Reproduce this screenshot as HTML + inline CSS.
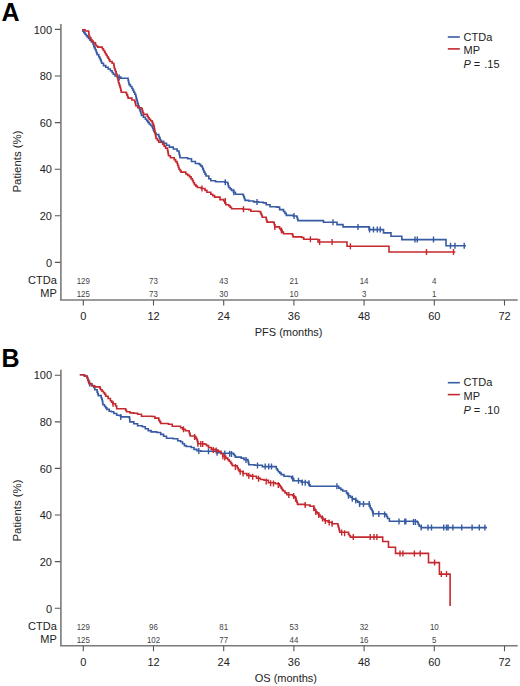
<!DOCTYPE html>
<html><head><meta charset="utf-8"><style>
html,body{margin:0;padding:0;background:#fff;}
body{width:520px;height:686px;overflow:hidden;}
svg{display:block;}
text{font-family:"Liberation Sans",sans-serif;}
.big{font-size:25px;font-weight:bold;fill:#000;}
.lab{font-size:11px;fill:#222;}
.num{font-size:8.8px;fill:#444;}
.ax{stroke:#7a7a7a;stroke-width:1.6;fill:none;}
.tk{stroke:#555;stroke-width:1.1;fill:none;}
.cv{fill:none;stroke-width:1.6;stroke-linejoin:miter;stroke-linecap:butt;}
.cs{fill:none;stroke-width:1.4;}
</style></head><body>
<svg width="520" height="686" viewBox="0 0 520 686">
<text x="1.5" y="20.9" class="big">A</text>
<path d="M60.9 24V300" class="ax"/>
<path d="M60.1 300H517.7" class="ax"/>
<text x="52" y="33.6" class="lab" text-anchor="end">100</text>
<text x="52" y="80.2" class="lab" text-anchor="end">80</text>
<text x="52" y="126.8" class="lab" text-anchor="end">60</text>
<text x="52" y="173.3" class="lab" text-anchor="end">40</text>
<text x="52" y="219.9" class="lab" text-anchor="end">20</text>
<text x="52" y="266.6" class="lab" text-anchor="end">0</text>
<text x="83.3" y="319.8" class="lab" text-anchor="middle">0</text>
<text x="153.5" y="319.8" class="lab" text-anchor="middle">12</text>
<text x="223.7" y="319.8" class="lab" text-anchor="middle">24</text>
<text x="293.9" y="319.8" class="lab" text-anchor="middle">36</text>
<text x="364.1" y="319.8" class="lab" text-anchor="middle">48</text>
<text x="434.3" y="319.8" class="lab" text-anchor="middle">60</text>
<text x="504.5" y="319.8" class="lab" text-anchor="middle">72</text>
<path d="M54.8 29.4H60.5M54.8 76H60.5M54.8 122.6H60.5M54.8 169.2H60.5M54.8 215.8H60.5M54.8 262.4H60.5M83.3 300V305.5M153.5 300V305.5M223.7 300V305.5M293.9 300V305.5M364.1 300V305.5M434.3 300V305.5M504.5 300V305.5" class="tk"/>
<text x="254.7" y="336.2" class="lab">PFS (months)</text>
<text transform="translate(21.2 161.5) rotate(-90)" class="lab" style="font-size:11.4px" text-anchor="middle">Patients (%)</text>
<text x="56.8" y="284.4" class="lab" text-anchor="end">CTDa</text>
<text x="56.8" y="296.9" class="lab" text-anchor="end">MP</text>
<text transform="translate(83.3 284.1) scale(0.9 1)" class="num" text-anchor="middle">129</text>
<text transform="translate(83.3 296.8) scale(0.9 1)" class="num" text-anchor="middle">125</text>
<text transform="translate(153.5 284.1) scale(0.9 1)" class="num" text-anchor="middle">73</text>
<text transform="translate(153.5 296.8) scale(0.9 1)" class="num" text-anchor="middle">73</text>
<text transform="translate(223.7 284.1) scale(0.9 1)" class="num" text-anchor="middle">43</text>
<text transform="translate(223.7 296.8) scale(0.9 1)" class="num" text-anchor="middle">30</text>
<text transform="translate(293.9 284.1) scale(0.9 1)" class="num" text-anchor="middle">21</text>
<text transform="translate(293.9 296.8) scale(0.9 1)" class="num" text-anchor="middle">10</text>
<text transform="translate(364.1 284.1) scale(0.9 1)" class="num" text-anchor="middle">14</text>
<text transform="translate(364.1 296.8) scale(0.9 1)" class="num" text-anchor="middle">3</text>
<text transform="translate(434.3 284.1) scale(0.9 1)" class="num" text-anchor="middle">4</text>
<text transform="translate(434.3 296.8) scale(0.9 1)" class="num" text-anchor="middle">1</text>
<path d="M447.8 37H459.8" stroke="#365ba2" stroke-width="1.6"/>
<path d="M447.8 48.9H459.8" stroke="#c5282e" stroke-width="1.6"/>
<text x="463.6" y="40.5" class="lab">CTDa</text>
<text x="463.6" y="54" class="lab">MP</text>
<text x="463.4" y="68.2" class="lab"><tspan font-style="italic">P</tspan> = <tspan dx="1">.15</tspan></text>
<path d="M82.1 29.8H82.9V31.2H83.8V32.7H85V34.2H86.2V35.6H87.3V37H88.5V38.5H89.9V40.2H91.3V41.9H93.1V44.2H93.7V46H94.2V47.7H95.1V49.5H96V51.2H96.5V52.9H97.1V54.6H98.8V56.9H99.7V58.6H100.6V60.4H101.2V61.8H101.7V63.3H103.5V65.6H105.8V67.3H108.1V69H110.4V70.8H112.1V72.5H113.3V74.2H115V76H117.3V77.1H120.8V78.3L127.7 78.3H128.1V80.4H128.6V82.5H129V84.6H130.4V86.5H131.9V88.5H132.9V90.4H133.8V92.3H134.8V94.2H135.8V96.2H136.2V98.1H136.7V100H137.2V101.9H137.7V103.8H138.3V105.7H139V107.7H139.6V109.6H140.2V111.5H140.9V113.5H141.5V115.4H143.4V117.3H145.4V119.2H146.7V120.8H147.9V122.4H149.2V124H150.6V125.5H152.1V126.9H152.7V128.5H153.4V130.1H154V131.7H155V133.1H156V134.6H158.8V136.5H159.5V138.1H160.1V139.7H160.8V141.3H163.7V143.3H166.5V145.2H169.4V147.1H173.3V149H177.1V151H179V152.9H179.3V154.5H179.7V156.1H180V157.7H187.7V158.7H191.5V161.5H195.4V163.5H199.2V164.4H200.6V165.9H202.1V167.3H202.7V168.9H203.4V170.5H204V172.1H205V174.1H206V176H208.8V178.8H210.8V180.8H215.6V181.7H224.8V182.3H227.7V183.7H228.2V185.6H228.7V187.5H230.1V188.9H231.5V190.4H233.5V192.3H235.4V194.2H243.1V195.2H243.7V196.9H244.4V198.7H245V200.4H248.8V201H253.7V201.9H258.5V202.3H263.3V202.9H266.2V204.8H270V206.7H276.7V207.1H279.6V209.6H283.5V211.5H284.9V213.4H286.3V215.4H293.1V216H296.9V217.3H297.4V218.9H297.9V220.6L323.5 220.6L323.5 222.3L337 222.3L337 224.6L343 224.6L343 226.9L369 226.9L369 229.6L383.5 229.6L383.5 232.9L391 232.9L391 236.2L401.8 236.2L401.8 239.6L446 239.6L446 245.8L466 245.8" class="cv" stroke="#365ba2"/>
<path d="M119.2 74.6V80.6M225.3 179.3V185.3M233.8 189.3V195.3M257 199.1V205.1M294 213V219M333 219.3V225.3M358 223.9V229.9M369.6 226.6V232.6M373.5 226.6V232.6M377.3 226.6V232.6M380.2 226.6V232.6M415 236.6V242.6M417.3 236.6V242.6M433.5 236.6V242.6M450.5 242.8V248.8M455 242.8V248.8M464.2 242.8V248.8" class="cs" stroke="#365ba2"/>
<path d="M82.1 29.8H85V31H88.5V31.5H88.8V33.9H89V36.2H89.9V37.9H90.8V39.6H91.9V41H93.1V42.5H94.8V43.1H95.4V44.5H96V46H97.7V47.1L100.6 47.1H102.3V48.8H103.4V50.5H104.6V52.3H105.4V53.8H106.3V55.2H107.2V56.7H108.1V58.1H108.9V59.8H109.8V61.5H112.1V63.3H113.8V65H114.1V66.8H114.4V68.5H115V70.2H115.6V71.9H116.2V74.2H117.3V76.5H117.7V78.6H118.1V80.6H118.5V82.7H119.1V84.6H119.8V86.6H120.4V88.5H120.8V90.4H121.3V92.3H126.2V93.3H126.8V94.9H127.5V96.5H128.1V98.1H131.9V100H134.8V101.9H135.3V103.8H135.8V105.8H137.7V107.7H141.5V108.7H142.2V110.6H142.8V112.5H143.5V114.4H147.3V116.3H148.2V117.8H149.2V119.2H150.6V120.7H152.1V122.1H152.7V123.7H153.4V125.3H154V126.9H154.3V128.8H154.7V130.8H155V132.7H155.3V134.6H155.7V136.6H156V138.5H157.4V140.4H158.8V142.3H162.7V144.2H164.1V146.1H165.6V148.1H167.5V150H167.8V151.9H168.2V153.9H168.5V155.8H170.4V157.7H174.2V159.6H175.6V161.6H177.1V163.5H177.7V165.4H178.4V167.3H179V169.2H180V170.6H181V172.1H185.8V174H187.7V175.4H189.6V176.9H191.1V178.9H192.5V180.8H193.4V182.7H194.4V184.6H195.9V186.1H197.3V187.5H201.2V188.5H205V190.4H206.9V192.3H210.8V194.2H212.7V195.6H214.6V197.1H220V199.6H223.8V201H224.8V202.9H225.8V204.8H228.7V205.8H230.1V207.2H231.5V208.7H243.1V209.2H248.8V209.6H250.8V211.2H258.5V211.5H260.4V212.5H261V214.1H261.7V215.7H262.3V217.3H266.2V219.2H266.6V220.6H267.1V222.1H273.8V222.7H274.3V224.8H274.8V226.9H279.6V228.8H280.9V230.4H282.2V232.1H283.5V233.7H292.1V234H292.6V235.4H293.1V236.9H301.7V237.5H303.7V239.2L318 239.2L318 242L347 242L347 246.2L389 246.2L389 252L455.3 252" class="cv" stroke="#c5282e"/>
<path d="M202 185.5V191.5M225.3 198V204M243.5 206.2V212.2M274.8 223.9V229.9M281.5 227.5V233.5M310.4 236.2V242.2M319.6 239V245M332.1 239V245M350.4 243.2V249.2M426.5 249V255M453.5 249V255" class="cs" stroke="#c5282e"/>
<text x="1.5" y="366.6" class="big">B</text>
<path d="M60.9 369.7V645.7" class="ax"/>
<path d="M60.1 645.7H517.7" class="ax"/>
<text x="52" y="379.4" class="lab" text-anchor="end">100</text>
<text x="52" y="426.1" class="lab" text-anchor="end">80</text>
<text x="52" y="472.6" class="lab" text-anchor="end">60</text>
<text x="52" y="519.2" class="lab" text-anchor="end">40</text>
<text x="52" y="565.9" class="lab" text-anchor="end">20</text>
<text x="52" y="612.5" class="lab" text-anchor="end">0</text>
<text x="83.3" y="665.5" class="lab" text-anchor="middle">0</text>
<text x="153.5" y="665.5" class="lab" text-anchor="middle">12</text>
<text x="223.7" y="665.5" class="lab" text-anchor="middle">24</text>
<text x="293.9" y="665.5" class="lab" text-anchor="middle">36</text>
<text x="364.1" y="665.5" class="lab" text-anchor="middle">48</text>
<text x="434.3" y="665.5" class="lab" text-anchor="middle">60</text>
<text x="504.5" y="665.5" class="lab" text-anchor="middle">72</text>
<path d="M54.8 375.2H60.5M54.8 421.9H60.5M54.8 468.4H60.5M54.8 515H60.5M54.8 561.6H60.5M54.8 608.2H60.5M83.3 645.7V651.2M153.5 645.7V651.2M223.7 645.7V651.2M293.9 645.7V651.2M364.1 645.7V651.2M434.3 645.7V651.2M504.5 645.7V651.2" class="tk"/>
<text x="254.7" y="681.9" class="lab">OS (months)</text>
<text transform="translate(21.2 510.5) rotate(-90)" class="lab" style="font-size:11.4px" text-anchor="middle">Patients (%)</text>
<text x="56.8" y="630.1" class="lab" text-anchor="end">CTDa</text>
<text x="56.8" y="642.6" class="lab" text-anchor="end">MP</text>
<text transform="translate(83.3 629.8) scale(0.9 1)" class="num" text-anchor="middle">129</text>
<text transform="translate(83.3 642.5) scale(0.9 1)" class="num" text-anchor="middle">125</text>
<text transform="translate(153.5 629.8) scale(0.9 1)" class="num" text-anchor="middle">96</text>
<text transform="translate(153.5 642.5) scale(0.9 1)" class="num" text-anchor="middle">102</text>
<text transform="translate(223.7 629.8) scale(0.9 1)" class="num" text-anchor="middle">81</text>
<text transform="translate(223.7 642.5) scale(0.9 1)" class="num" text-anchor="middle">77</text>
<text transform="translate(293.9 629.8) scale(0.9 1)" class="num" text-anchor="middle">53</text>
<text transform="translate(293.9 642.5) scale(0.9 1)" class="num" text-anchor="middle">44</text>
<text transform="translate(364.1 629.8) scale(0.9 1)" class="num" text-anchor="middle">32</text>
<text transform="translate(364.1 642.5) scale(0.9 1)" class="num" text-anchor="middle">16</text>
<text transform="translate(434.3 629.8) scale(0.9 1)" class="num" text-anchor="middle">10</text>
<text transform="translate(434.3 642.5) scale(0.9 1)" class="num" text-anchor="middle">5</text>
<path d="M447.8 382.7H459.8" stroke="#365ba2" stroke-width="1.6"/>
<path d="M447.8 394.6H459.8" stroke="#c5282e" stroke-width="1.6"/>
<text x="463.6" y="386.2" class="lab">CTDa</text>
<text x="463.6" y="399.7" class="lab">MP</text>
<text x="463.4" y="413.9" class="lab"><tspan font-style="italic">P</tspan> = <tspan dx="1">.10</tspan></text>
<path d="M79.8 374.8H84.4V376H86.7V376.5H87.3V378.2H87.9V380H88.5V381.8H89V383.5H90.2V383.8H92V385.6H93.7V387.5H94.8V389.8H97.1V392.1H97.7V393.9H98.3V395.6H101.2V397.9H101.8V399.4H102.3V400.8H102.6V402.8H102.9V404.8H104.6V406.5H105.8V407.9H106.9V409.4H109.2V411.2H111.5V411.7H113.8V413.5H116.7V415.2H119.6V415.8H120.8V416.9L127.7 416.9H129.4V418.1H129.7V420H129.9V421.9H133.8V423.8H137.6V425.8H142.4V426.7H145.3V428.7H148.2V430.6H151.1V431.9H156.8V432.5H160.7V434.4H163.6V436.3H166.5V438.3H173.2V438.8L174.8 438.8H177.7V440.8H180.6V441.7H182.5V443.7H184.4V445.6H186.3V446.5H191.2V447.5H194V449.4H196.9V450.8H200.8V451.3L214.2 451.3H217.1V452.7H221V453.3H233.5V454.2H234.4V455.6H235.4V457.1H241.2V458.1H244V459.6H247.9V461H248.4V462.9H248.8V464.8H254.6V465.2H262.3V466.6L274.4 466.6H276.3V468.8H277.3V470.2H278.3V471.7H279.8V473.1H281.2V474.6H284V476.2H288.8V476.5H291.7V478.5H293.7V480.8L298.5 480.8H301.3V482.3H308.1V483.3H309.1V484.8H310V486.2L336.9 486.2H338.8V488.1H340.8V489.6H342.7V491H346.5V492.9H347.5V494.4H348.5V495.8H350.4V497.2H352.3V498.7H353.8V499.2H355.8V500.6H357.7V502.1H359.6V504L369.2 504H369.7V505.9H370.2V507.9H371.1V509.4H372.1V510.8H372.6V512.2H373.1V513.7H385.6V514.6H386.6V516.5H387.5V518.5H389.4V521.3H417.3V522.3H418.2V524.2H419.2V526.2H421.2V527.6L487 527.6" class="cv" stroke="#365ba2"/>
<path d="M89.6 380.6V386.6M120.8 413.9V419.9M198.8 448V454M208.5 448.3V454.3M217.1 449.7V455.7M224.8 450.4V456.4M229.6 450.8V456.8M231.5 450.9V456.9M246 457V463M257.5 462.6V468.6M265.2 463.6V469.6M268.7 463.6V469.6M271.5 463.6V469.6M292.7 475.5V481.5M298.5 477.8V483.8M302.3 479.4V485.4M305.2 479.8V485.8M309 480.3V486.3M336.9 483.2V489.2M348.5 492.8V498.8M352.3 495.7V501.7M355.8 497.5V503.5M359.6 501V507M363.5 501V507M369.2 501V507M373.1 510.7V516.7M378.8 511V517M384.6 511.5V517.5M399 518.5V524.5M404.8 518.6V524.6M405.8 518.6V524.6M413.5 518.9V524.9M415.4 519V525M421.2 524.6V530.6M428 524.6V530.6M431.5 524.6V530.6M443.7 524.6V530.6M446.5 524.6V530.6M448.1 524.6V530.6M452.9 524.6V530.6M461.7 524.6V530.6M472.1 524.6V530.6M479.3 524.6V530.6M484.9 524.6V530.6" class="cs" stroke="#365ba2"/>
<path d="M79.8 374.8H84.4V376H86.7V376.5H87.3V378.2H87.9V380H88.5V381.8H89V383.5H91.3V385.8H94.8V386.9L99.4 386.9H100V388.4H100.6V389.8H102V391.2H103.5V392.7H104.7V394.4H105.8V396.2H108.1V398.5H110.4V400.8H111.6V402.2H112.7V403.7H115.6V406H116.7V408.8L124.8 408.8H125.7V410.2H126.5V411.7H130V412.9H133.8V413.3H137.6V414.2H141.5V416.2H152V416.5H154.9V418.1H158.8V420.4H159.8V421.9H160.7V423.5H168.4V424.2H172.2V426.2H173.8V426.3H180.6V427.7H182.5V429.2H185.4V430.8H189.2V432.7H189.7V434.4H190.2V436H195V436.9H195.9V438.4H196.9V439.8H197.4V441.8H197.9V443.7H204.6V444.2H206.5V445.6H208.5V447.5H211.3V449.4H215.2V450H218.1V451.3H221V453.8H222.9V456.2H225.8V458.1H227.7V459.6H229.1V461.2H230.6V462.9H231.6V464.4H232.5V465.8H237.3V467.7H238.2V469.6H239.2V471.5H243.1V473.5H246.9V475.4H250.8V476.3H256.5V478.3H260.4V479.5H264V480.3H268.4V482.7H275.4V483.8H279.2V485.2H280.2V486.6H281.2V488.1H282.1V489.6H283.1V491H285V492.9H286.9V494.8H292.7V495.8H294.1V497.2H295.6V498.7H296.2V500.6H296.9V502.5H297.5V504.4H305.2V505H310V506.3H313.8V508.3H314.8V510.2H315.8V512.1H317.2V513.5H318.7V515H320.1V516.5H321.5V517.9H322.9V519.3H324.4V520.8H328.2V522.2H332.1V523.7H337.9V525.6H338.4V527.3H338.9V529H339.3V530.6H339.8V532.3H348.5V534.2H349.4V535.7H350.4V537.1L382.7 537.1L382.7 541.5L388.5 541.5L388.5 547.3L395.5 547.3L395.5 553.4L428.5 553.4L428.5 562.6L439.4 562.6L439.4 574.1L450.1 574.1L450.1 606" class="cv" stroke="#c5282e"/>
<path d="M113 400.7V406.7M183.5 426.2V432.2M194.6 433.9V439.9M197.9 440.7V446.7M200.8 441V447M202.7 441.1V447.1M213.3 447V453M216.2 447.5V453.5M222.9 453.2V459.2M224.8 454.5V460.5M235.4 464V470M240.2 468.8V474.8M243.1 470.5V476.5M248.8 472.8V478.8M252.7 473.8V479.8M258.5 475.8V481.8M266.2 478.5V484.5M270.6 480.2V486.2M273.5 480.6V486.6M278.3 482V488M288.8 492V498M293.7 492.9V498.9M295.6 495.7V501.7M305.2 502V508M313.8 505.3V511.3M315.8 509.1V515.1M318.7 512V518M322.5 515.5V521.5M325.4 517.9V523.9M329.2 519.6V525.6M332.1 520.7V526.7M341.7 529.6V535.6M344.6 530.3V536.3M353.3 534.1V540.1M370.2 534.1V540.1M374 534.1V540.1M376.9 534.1V540.1M400 550.4V556.4M402.9 550.4V556.4M414.4 550.4V556.4M420.2 550.4V556.4M434.6 559.6V565.6M441.3 571.1V577.1M446.5 571.1V577.1" class="cs" stroke="#c5282e"/>
</svg>
</body></html>
